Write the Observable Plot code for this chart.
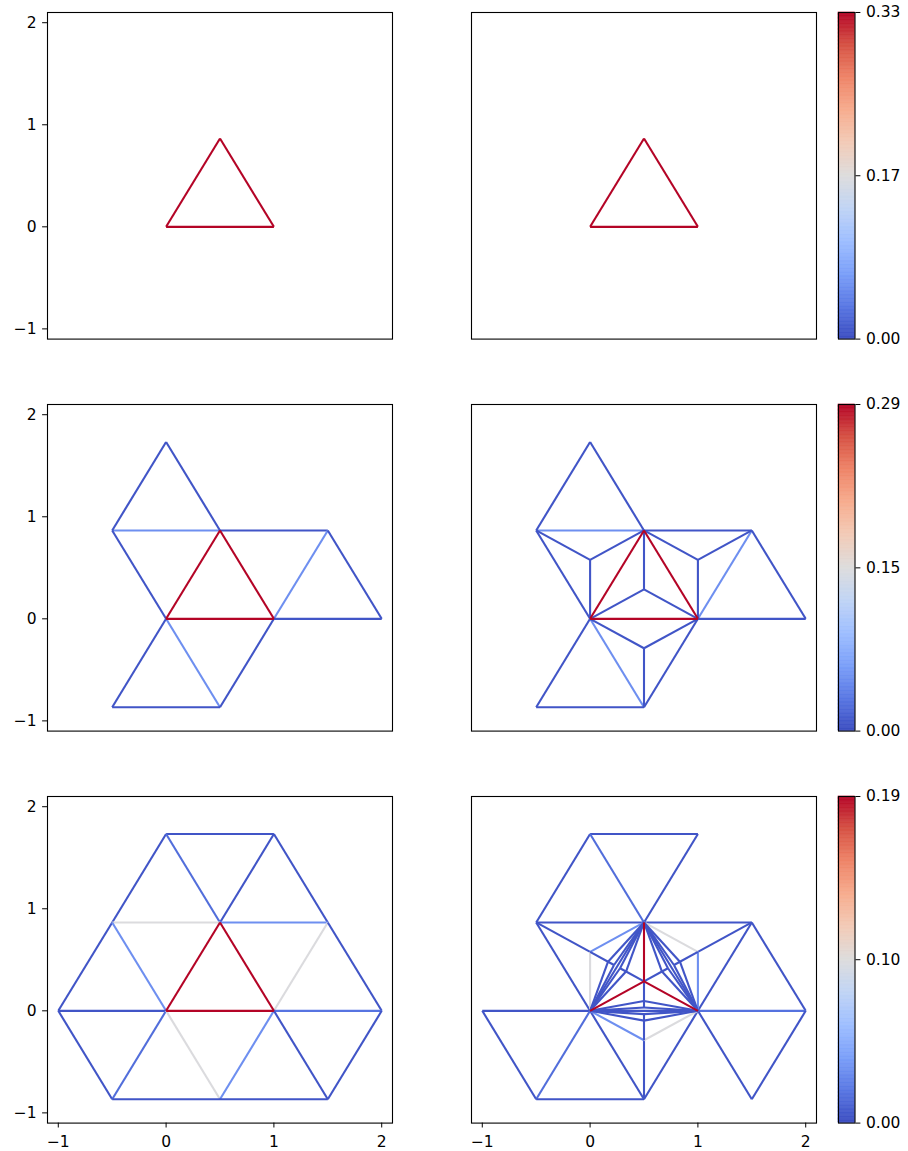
<!DOCTYPE html>
<html><head><meta charset="utf-8">
<script src="https://cdn.jsdelivr.net/npm/d3@7"></script>
<script src="https://cdn.jsdelivr.net/npm/@observablehq/plot@0.6"></script>
<style>
html,body{margin:0;padding:0;background:#fff;}
#fig{position:relative;width:908px;height:1151px;overflow:hidden;background:#fff;}
#fig svg{position:absolute;}
#fig svg text{font-family:'DejaVu Sans',sans-serif;font-size:15.5px;}
</style></head><body><div id="fig"></div>
<script>
// ---------- data ----------
const vertexNames = ["A0","A1","A2","N1","N2","N3","T1","T2","T3","U1","U2","U3","C0","P1","P2","P3","R1","R2","R3","Q1","Q2","Q3","G1","G2","G3","H1","H2","H3"];
const vertexX = [0, 1, 0.5, -0.5, 1.5, 0.5, 0, 2, -0.5, 1, 1.5, -1, 0.5, 0, 1, 0.5, 0.3333, 0.6667, 0.5, 0.1667, 0.8333, 0.5, 0.2222, 0.7778, 0.5, 0.2778, 0.7222, 0.5];
const vertexY = [0, 0, 0.866, 0.866, 0.866, -0.866, 1.732, 0, -0.866, 1.732, -0.866, 0, 0.2887, 0.5774, 0.5774, -0.2887, 0.3849, 0.3849, 0.0962, 0.4811, 0.4811, -0.0962, 0.449, 0.449, -0.0321, 0.417, 0.417, 0.0321];

const edgesRow1Left = [["A0","A1",0.3333],["A1","A2",0.3333],["A2","A0",0.3333]];
const edgesRow1Right = [["A0","A1",0.3333],["A1","A2",0.3333],["A2","A0",0.3333]];

const edgesRow2Left = [
  ["N1","A2",0.047],["N1","A0",0.006],["N1","T1",0.006],["T1","A2",0.006],
  ["A2","N2",0.006],["N2","A1",0.047],["N2","T2",0.006],["A1","T2",0.006],
  ["A0","N3",0.047],["N3","A1",0.006],["A0","T3",0.006],["T3","N3",0.006],
  ["A0","A1",0.2917],["A1","A2",0.2917],["A2","A0",0.2917]
];
const edgesRow2Right = [
  ["N1","A2",0.047],["N1","A0",0.006],["N1","T1",0.006],["T1","A2",0.006],
  ["A2","N2",0.006],["N2","A1",0.047],["N2","T2",0.006],["A1","T2",0.006],
  ["A0","N3",0.047],["N3","A1",0.006],["A0","T3",0.006],["T3","N3",0.006],
  ["P1","A0",0.006],["P1","A2",0.006],["P1","N1",0.006],
  ["P2","A2",0.006],["P2","A1",0.006],["P2","N2",0.006],
  ["P3","A0",0.006],["P3","A1",0.006],["P3","N3",0.006],
  ["C0","A0",0.006],["C0","A1",0.006],["C0","A2",0.006],
  ["A0","A1",0.2917],["A1","A2",0.2917],["A2","A0",0.2917]
];

const edgesRow3Left = [
  ["T1","U1",0.004],["T1","N1",0.004],["T1","A2",0.015],["U1","A2",0.004],["U1","N2",0.004],
  ["N1","A2",0.095],["A2","N2",0.031],["N1","U3",0.004],["N1","A0",0.031],
  ["N2","A1",0.095],["N2","T2",0.004],["U3","A0",0.004],["A1","T2",0.018],
  ["U3","T3",0.004],["A0","T3",0.015],["A0","N3",0.095],["A1","N3",0.031],
  ["A1","U2",0.004],["T2","U2",0.004],["T3","N3",0.004],["N3","U2",0.004],
  ["A2","A0",0.1925],["A2","A1",0.1925],["A0","A1",0.1925]
];
const edgesRow3Right = [
  ["T1","U1",0.004],["T1","N1",0.004],["T1","A2",0.015],["U1","A2",0.004],
  ["N1","A2",0.004],["A2","N2",0.004],["N1","A0",0.004],["N2","A1",0.004],
  ["N2","T2",0.004],["A1","T2",0.017],["U3","A0",0.004],["U3","T3",0.004],
  ["T3","A0",0.015],["T3","N3",0.004],["A0","N3",0.004],["N3","A1",0.004],
  ["A1","U2",0.004],["U2","T2",0.004],
  ["A0","A2",0.004],["A2","A1",0.004],["A0","A1",0.004],
  ["P1","N1",0.004],["P1","A2",0.031],["P1","A0",0.095],["Q1","P1",0.004],["Q1","A0",0.004],["Q1","A2",0.004],["G1","Q1",0.004],["G1","A0",0.004],["G1","A2",0.004],
  ["P2","N2",0.004],["P2","A1",0.031],["P2","A2",0.095],["Q2","P2",0.004],["Q2","A2",0.004],["Q2","A1",0.004],["G2","Q2",0.004],["G2","A2",0.004],["G2","A1",0.004],
  ["P3","N3",0.004],["P3","A0",0.031],["P3","A1",0.095],["Q3","P3",0.004],["Q3","A0",0.004],["Q3","A1",0.004],["G3","Q3",0.004],["G3","A0",0.004],["G3","A1",0.004],
  ["R1","C0",0.004],["R1","A0",0.004],["R1","A2",0.004],["H1","R1",0.004],["H1","A0",0.004],["H1","A2",0.004],
  ["R2","C0",0.004],["R2","A2",0.004],["R2","A1",0.004],["H2","R2",0.004],["H2","A2",0.004],["H2","A1",0.004],
  ["R3","C0",0.004],["R3","A0",0.004],["R3","A1",0.004],["H3","R3",0.004],["H3","A0",0.004],["H3","A1",0.004],
  ["C0","A0",0.1925],["C0","A1",0.1925],["C0","A2",0.1925]
];

const rowMax = [0.3333, 0.2917, 0.1925];
const colorbarTicks = [[0, 0.1667, 0.3333], [0, 0.1458, 0.2917], [0, 0.0963, 0.1925]];
const colorbarTickLabels = [["0.00","0.17","0.33"], ["0.00","0.15","0.29"], ["0.00","0.10","0.19"]];
const axisDomain = [-1.1, 2.1];
const axisTicks = [-1, 0, 1, 2];
const axisTickLabels = ["\u22121", "0", "1", "2"];
const coolwarmStops = ["#3b4cc0","#5977e3","#7b9ff9","#9ebeff","#c0d4f5","#dddcdc","#f2cbb7","#f7ac8e","#ee8468","#d65244","#b40426"];

// ---------- drawing ----------
const fig = document.getElementById("fig");
const coolwarm = d3.piecewise(d3.interpolateRgb, coolwarmStops);
const V = Object.fromEntries(vertexNames.map((n, i) => [n, [vertexX[i], vertexY[i]]]));
const baseStyle = {fontFamily: "'DejaVu Sans', sans-serif", fontSize: "15.5px", color: "black", background: "transparent", overflow: "visible"};
const FS = 15.5;

const panels = [
  [edgesRow1Left, edgesRow1Right],
  [edgesRow2Left, edgesRow2Right],
  [edgesRow3Left, edgesRow3Right]
];

const colX0 = [47.3, 471];
const panelW = 345, panelH = 326.6;
const rowY0 = [11.7, 403.5, 795.5];
const mL = 50, mR = 10, mT = 10, mB = 40;
const cbX0 = 837.5, cbW = 16.5, cmL = 2, cmR = 60;

function place(svg, left, top) {
  svg.style.position = "absolute";
  svg.style.left = left + "px";
  svg.style.top = top + "px";
  fig.appendChild(svg);
}
const tickLab = (d) => axisTickLabels[axisTicks.indexOf(d)];

panels.forEach((row, r) => {
  const colorOpts = {type: "linear", domain: [0, rowMax[r]], interpolate: (t) => coolwarm(t)};
  row.forEach((edges, c) => {
    const showY = c === 0;
    const showX = r === 2;
    const marks = [
      Plot.link(edges, {
        x1: d => V[d[0]][0], y1: d => V[d[0]][1],
        x2: d => V[d[1]][0], y2: d => V[d[1]][1],
        stroke: d => d[2], strokeWidth: 2.1
      }),
      Plot.frame({stroke: "black", strokeWidth: 1.1})
    ];
    if (showY) marks.push(Plot.axisY({ticks: axisTicks, tickFormat: tickLab, tickSize: 4.9, tickPadding: 6, label: null, stroke: "black", fill: "black", fontSize: FS}));
    if (showX) marks.push(Plot.axisX({ticks: axisTicks, tickFormat: tickLab, tickSize: 4.9, tickPadding: 8, label: null, stroke: "black", fill: "black", fontSize: FS}));
    const svg = Plot.plot({
      width: panelW + mL + mR, height: panelH + mT + mB,
      marginLeft: mL, marginRight: mR, marginTop: mT, marginBottom: mB,
      style: baseStyle,
      x: showX ? {domain: axisDomain, label: null} : {domain: axisDomain, label: null, axis: null},
      y: showY ? {domain: axisDomain, label: null} : {domain: axisDomain, label: null, axis: null},
      color: colorOpts,
      marks
    });
    place(svg, colX0[c] - mL, rowY0[r] - mT);
  });
  // colorbar
  const n = 240;
  const ramp = d3.range(n).map(i => ({a: rowMax[r] * i / n, b: rowMax[r] * (i + 1) / n, m: rowMax[r] * (i + 0.5) / n}));
  const cb = Plot.plot({
    width: cmL + cbW + cmR, height: panelH + mT + mB,
    marginLeft: cmL, marginRight: cmR, marginTop: mT, marginBottom: mB,
    style: baseStyle,
    x: {domain: [0, 1], axis: null},
    y: {domain: [0, rowMax[r]], label: null},
    color: colorOpts,
    marks: [
      Plot.rect(ramp, {x1: () => 0, x2: () => 1, y1: "a", y2: "b", fill: "m", stroke: "m", strokeWidth: 0.6}),
      Plot.frame({stroke: "black", strokeWidth: 1.1}),
      Plot.axisY({anchor: "right", ticks: colorbarTicks[r], tickFormat: (d) => colorbarTickLabels[r][colorbarTicks[r].indexOf(d)], tickSize: 4.9, tickPadding: 6, label: null, stroke: "black", fill: "black", fontSize: FS})
    ]
  });
  place(cb, cbX0 - cmL, rowY0[r] - mT);
});
</script></body></html>
